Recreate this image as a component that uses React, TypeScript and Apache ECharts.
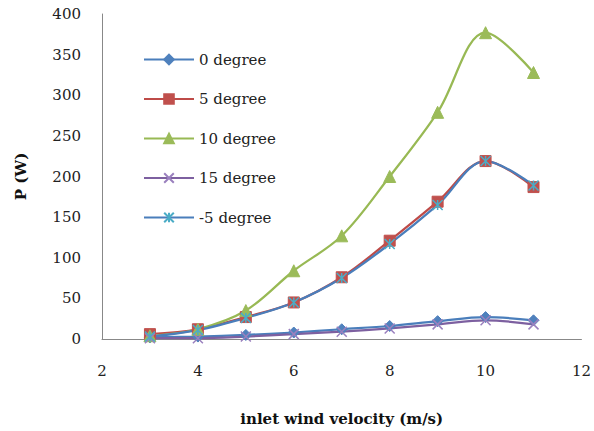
import React, { useEffect, useRef } from "react";
import * as echarts from "echarts";

const velocity = [3, 4, 5, 6, 7, 8, 9, 10, 11];
const deg0 = [2, 3, 5, 8, 12, 16, 22, 27, 23];
const deg5 = [6, 12, 27, 45, 76, 121, 169, 219, 187];
const deg10 = [4, 12, 35, 84, 127, 200, 279, 377, 328];
const deg15 = [1, 1, 3, 6, 9, 13, 18, 23, 18];
const degMinus5 = [3, 11, 26, 45, 75, 117, 165, 219, 189];
const seriesNames = ["0 degree", "5 degree", "10 degree", "15 degree", "-5 degree"];
const yTicks = { min: 0, max: 400, interval: 50 };
const xTicks = { min: 2, max: 12, interval: 2 };

const FONT = "DejaVu Serif";
const crossPath = "path://M0,0L10,10M10,0L0,10";
const starPath = "path://M0,0L10,10M10,0L0,10M5,0L5,10";

export default function App() {
  const ref = useRef<HTMLDivElement>(null);
  useEffect(() => {
    if (!ref.current) return;
    const chart = echarts.init(ref.current, undefined, { renderer: "svg" });
    const mk = (d: number[]) => velocity.map((x, i) => [x, d[i]]);
    const base = (name: string, data: number[], color: string, lineColor: string, symbol: string, size: number, extra: any = {}) => ({
      type: "line",
      name,
      data: mk(data),
      smooth: 0.35,
      symbol,
      symbolSize: size,
      lineStyle: { color: lineColor, width: 2.25 },
      itemStyle: { color, borderColor: color, borderWidth: 1, ...extra },
      z: 2,
    });
    chart.setOption({
      animation: false,
      backgroundColor: "#fff",
      grid: { left: 102, right: 12, top: 14, bottom: 90 },
      legend: {
        orient: "vertical",
        left: 138,
        top: 47,
        itemWidth: 50,
        itemHeight: 12,
        itemGap: 24.5,
        textStyle: { fontFamily: FONT, fontSize: 15, color: "#222" },
        data: seriesNames,
      },
      xAxis: {
        type: "value",
        ...xTicks,
        name: "inlet wind velocity (m/s)",
        nameLocation: "middle",
        nameGap: 72,
        nameTextStyle: { fontFamily: FONT, fontSize: 15, fontWeight: "bold", color: "#111" },
        axisLine: { lineStyle: { color: "#888", width: 1 } },
        axisTick: { show: false },
        splitLine: { show: false },
        axisLabel: { fontFamily: FONT, fontSize: 15, color: "#222", margin: 24 },
      },
      yAxis: {
        type: "value",
        ...yTicks,
        name: "P (W)",
        nameLocation: "middle",
        nameGap: 74,
        nameTextStyle: { fontFamily: FONT, fontSize: 15, fontWeight: "bold", color: "#111" },
        axisLine: { show: true, lineStyle: { color: "#888", width: 1 } },
        axisTick: { show: false },
        splitLine: { show: false },
        axisLabel: { fontFamily: FONT, fontSize: 15, color: "#222", margin: 21 },
      },
      series: [
        base(seriesNames[0], deg0, "#4F81BD", "#4A7EBB", "diamond", 11),
        base(seriesNames[1], deg5, "#C0504D", "#BE4B48", "rect", 11),
        base(seriesNames[2], deg10, "#9BBB59", "#98B954", "triangle", 12),
        base(seriesNames[3], deg15, "#8064A2", "#7D60A0", crossPath, 10, { borderColor: "#9A80BE", borderWidth: 1.5 }),
        base(seriesNames[4], degMinus5, "#4BACC6", "#4A7EBB", starPath, 10, { borderColor: "#4BACC6", borderWidth: 1.5 }),
      ],
    });
    return () => chart.dispose();
  }, []);
  return <div ref={ref} style={{ width: 594, height: 431, position: "fixed", left: 0, top: 0 }} />;
}
